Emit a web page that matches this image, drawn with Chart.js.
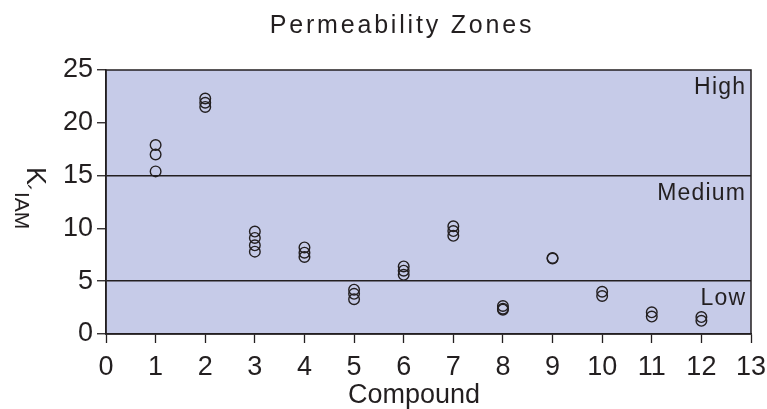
<!DOCTYPE html>
<html>
<head>
<meta charset="utf-8">
<script src="https://cdn.jsdelivr.net/npm/chart.js@4"></script>
<style>
  html, body { margin: 0; padding: 0; background: #fff; }
</style>
</head>
<body>
<canvas id="myChart" width="767" height="409"></canvas>
<script>
'use strict';

// compound number on x, k'IAM measurements per compound
const compounds = [1, 2, 3, 4, 5, 6, 7, 8, 9, 10, 11, 12];
const kIAM = [
  [17.9, 17.0, 15.4],
  [22.3, 21.9, 21.5],
  [9.7, 9.1, 8.4, 7.8],
  [8.2, 7.7, 7.3],
  [4.2, 3.8, 3.3],
  [6.4, 6.0, 5.6],
  [10.2, 9.75, 9.3],
  [2.65, 2.4, 2.3],
  [7.2, 7.15],
  [4.0, 3.6],
  [2.05, 1.65],
  [1.6, 1.25]
];
// permeability zones: name and upper bound
const zoneNames = ['Low', 'Medium', 'High'];
const zoneTops = [5, 15, 25];

const ink = '#231f20';
const fill = '#c6cbe8';
const sans = '"Liberation Sans", Arial, sans-serif';

const points = [];
compounds.forEach((c, i) => {
  kIAM[i].forEach(v => points.push({ x: c, y: v }));
});

const zonePlugin = {
  id: 'zones',
  beforeDraw(chart) {
    const { ctx, chartArea: a } = chart;
    ctx.save();
    ctx.fillStyle = '#fff';
    ctx.fillRect(0, 0, chart.width, chart.height);
    ctx.fillStyle = fill;
    ctx.fillRect(a.left, a.top, a.right - a.left, a.bottom - a.top);
    ctx.restore();
  },
  beforeDatasetsDraw(chart) {
    const { ctx, chartArea: a } = chart;
    const y = chart.scales.y;
    ctx.save();
    ctx.strokeStyle = ink;
    ctx.lineWidth = 1.5;
    ctx.strokeRect(a.left, a.top, a.right - a.left, a.bottom - a.top);
    // zone names
    ctx.fillStyle = ink;
    ctx.font = '23px ' + sans;
    ctx.letterSpacing = '1.2px';
    ctx.textAlign = 'right';
    ctx.textBaseline = 'alphabetic';
    zoneNames.forEach((name, i) => {
      ctx.fillText(name, a.right - 6 + 1.2, y.getPixelForValue(zoneTops[i]) + 24);
    });
    ctx.restore();
  },
  afterDraw(chart) {
    const { ctx } = chart;
    ctx.save();
    ctx.fillStyle = ink;
    // chart title
    ctx.font = '25px ' + sans;
    ctx.letterSpacing = '2.8px';
    ctx.textAlign = 'center';
    ctx.textBaseline = 'alphabetic';
    ctx.fillText('Permeability Zones', 402, 33);
    ctx.letterSpacing = '0px';
    // x axis title
    ctx.font = '27px ' + sans;
    ctx.fillText('Compound', 414, 403);
    // y axis title K'IAM, rotated clockwise
    ctx.translate(27, 167);
    ctx.rotate(Math.PI / 2);
    ctx.textAlign = 'left';
    ctx.font = '27px ' + sans;
    ctx.fillText('K', 0, 0);
    const kw = ctx.measureText('K').width;
    ctx.font = '22px ' + sans;
    ctx.fillText('´', kw - 1, 12);
    ctx.font = '21px ' + sans;
    ctx.fillText('IAM', 25, 12);
    ctx.restore();
  }
};

const data = {
  datasets: [
    {
      data: points,
      pointStyle: 'circle',
      pointRadius: 5.3,
      pointHoverRadius: 5.3,
      pointBorderWidth: 1.4,
      pointBorderColor: ink,
      pointBackgroundColor: 'rgba(0,0,0,0)'
    }
  ]
};

const options = {
  responsive: false,
  animation: false,
  layout: { padding: { top: 70, right: 16, bottom: 0, left: 0 } },
  plugins: {
    legend: { display: false },
    tooltip: { enabled: false },
    title: { display: false }
  },
  scales: {
    x: {
      type: 'linear',
      min: 0,
      max: 13,
      ticks: {
        stepSize: 1,
        autoSkip: false,
        maxRotation: 0,
        color: ink,
        padding: 8,
        font: { family: sans, size: 27 }
      },
      grid: { drawOnChartArea: false, tickLength: 9, tickColor: ink, tickWidth: 1.3 },
      border: { display: true, color: ink, width: 1.5 },
      afterFit: (scale) => {
        scale.height = 75;
        scale.paddingLeft = 0;
        scale.paddingRight = 0;
      }
    },
    y: {
      min: 0,
      max: 25,
      ticks: {
        stepSize: 5,
        color: ink,
        padding: 4,
        font: { family: sans, size: 27 }
      },
      grid: {
        color: (ctx) => (ctx.tick && (ctx.tick.value === 5 || ctx.tick.value === 15)) ? ink : 'rgba(0,0,0,0)',
        lineWidth: 1.5,
        tickLength: 9,
        tickColor: ink,
        tickWidth: 1.3
      },
      border: { display: true, color: ink, width: 1.5 },
      afterFit: (scale) => {
        scale.width = 106;
        scale.paddingTop = 0;
        scale.paddingBottom = 0;
      }
    }
  }
};

const chart = new Chart(document.getElementById('myChart'), {
  type: 'scatter',
  data: data,
  options: options,
  plugins: [zonePlugin]
});
</script>
</body>
</html>
